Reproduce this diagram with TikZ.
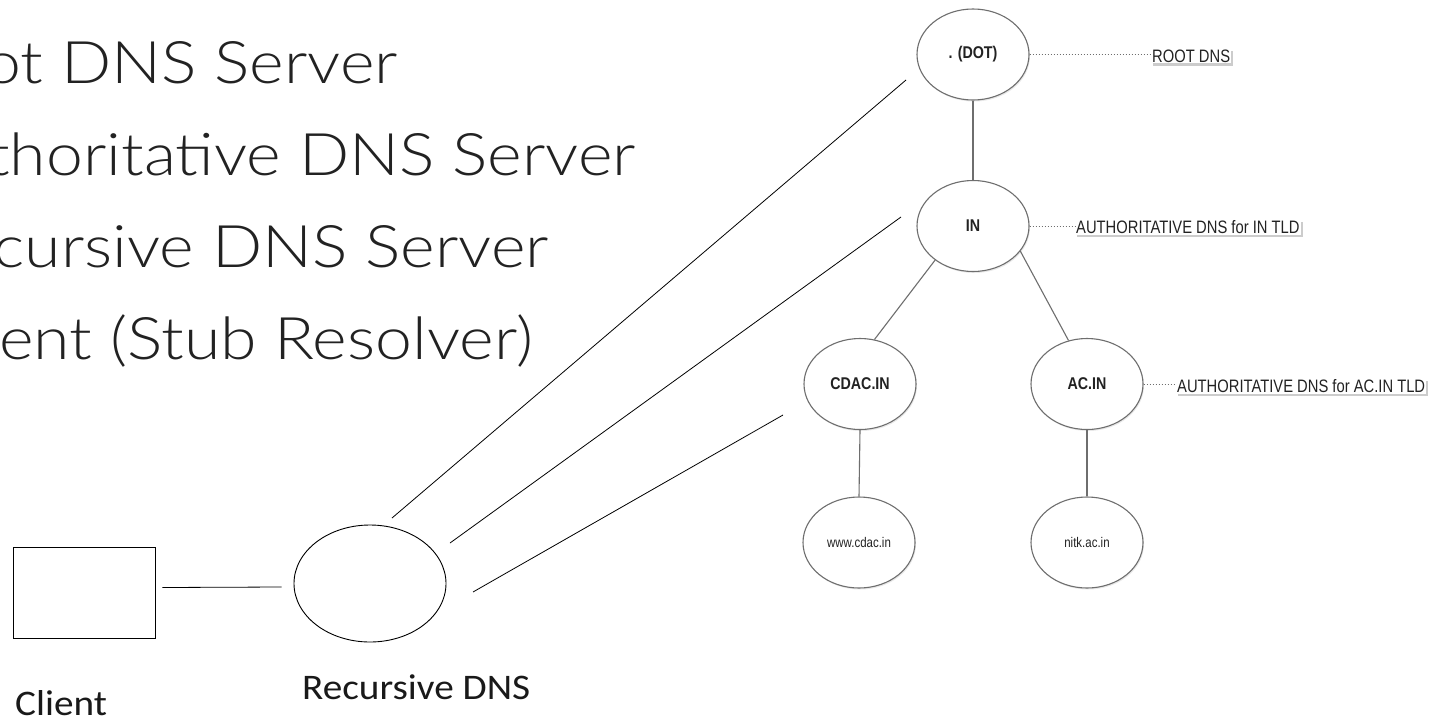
\documentclass[tikz,border=0pt]{standalone}
\usepackage{fontspec}
\usetikzlibrary{shapes.geometric,shadows}
\newfontfamily\lato{Lato Light}
\newfontfamily\arialn{Liberation Sans}
\newfontfamily\calib{Carlito}
\definecolor{ink}{HTML}{222222}
\definecolor{treeline}{HTML}{6E6E6E}
\newcommand\narrowtxt[1]{\scalebox{.84}[1]{#1}}
\newcommand\widetxt[1]{\scalebox{1.127}[1]{#1}}
\newcommand\captxt[1]{\scalebox{1.09}[1]{#1}}
\tikzset{
  headline/.style={anchor=base east, inner sep=0, text=ink,
    font=\lato\fontsize{58.7}{60}\selectfont},
  srv/.style={ellipse, draw=treeline, line width=1.1pt, fill=white,
    minimum width=112pt, minimum height=91pt, inner sep=0, text=ink,
    drop shadow={shadow xshift=1pt, shadow yshift=-1.5pt, opacity=.18}},
  srvname/.style={font=\arialn\bfseries\fontsize{17}{17}\selectfont},
  hostname/.style={font=\arialn\fontsize{14}{14}\selectfont},
  tag/.style={anchor=west, fill=white, inner sep=1pt, text=ink,
    font=\arialn\fontsize{18}{18}\selectfont,
    drop shadow={shadow xshift=2pt, shadow yshift=-2.5pt, opacity=.4, fill=black!50}},
  dots/.style={draw=treeline, line width=.9pt, dash pattern=on 1.6pt off 1.4pt},
  edge/.style={draw=treeline, line width=1.1pt},
  wire/.style={draw=black, line width=.8pt},
  plainbox/.style={draw=black, line width=.9pt, inner sep=0},
  caption/.style={anchor=base west, inner sep=0, text=black!90,
    font=\calib\fontsize{36}{36}\selectfont}
}
\begin{document}
\begin{tikzpicture}[x=1pt, y=-1pt]
\useasboundingbox (0,0) rectangle (1435,718);
\fill[white] (0,0) rectangle (1435,718);

% bullet headings (left margin runs off the page)
\begin{scope}
\clip (0,0) rectangle (1435,718);
\node[headline] (h1) at (398,83)  {\widetxt{ot DNS Server}};
\node[headline] (h2) at (636,175) {\widetxt{thoritative DNS Server}};
\node[headline] (h3) at (549,267) {\widetxt{cursive DNS Server}};
\node[headline] (h4) at (533,359) {\widetxt{ent (Stub Resolver)}};
\end{scope}

% DNS hierarchy
\node[srv, srvname] (dot)  at (973,54.5)  {\narrowtxt{. (DOT)}};
\node[srv, srvname] (in)   at (973,226)   {\narrowtxt{IN}};
\node[srv, srvname] (cdac) at (860,384)   {\narrowtxt{CDAC.IN}};
\node[srv, srvname] (acin) at (1087,384)  {\narrowtxt{AC.IN}};
\node[srv, hostname] (www)  at (859,542.5)  {\scalebox{.82}[1]{www.cdac.in}};
\node[srv, hostname] (nitk) at (1087,542.5) {\scalebox{.82}[1]{nitk.ac.in}};

\draw[edge] (dot.south) -- (in.north);
\draw[edge] (in.-138) -- (cdac.72);
\draw[edge] (in.-28) -- (acin.113);
\draw[edge] (cdac.south) -- (www.north);
\draw[edge] (acin.south) -- (nitk.north);

% role annotations
\node[tag] (rootlbl) at (1151,56)  {\scalebox{.82}[1]{ROOT DNS}};
\node[tag] (inlbl)   at (1075,227) {\scalebox{.82}[1]{AUTHORITATIVE DNS for IN TLD}};
\node[tag] (aclbl)   at (1176,386) {\scalebox{.82}[1]{AUTHORITATIVE DNS for AC.IN TLD}};
\draw[dots] (dot.east) -- (rootlbl.west |- dot.east);
\draw[dots] (in.east) -- (inlbl.west |- in.east);
\draw[dots] (acin.east) -- (aclbl.west |- acin.east);

% client and resolver
\node[plainbox, minimum width=142pt, minimum height=91pt] (client) at (84,592.5) {};
\node[plainbox, ellipse, minimum width=152pt, minimum height=117pt] (rec) at (370,583.5) {};
\draw[wire] ([xshift=7pt,yshift=5pt]client.east) -- ([xshift=-12pt,yshift=-3.5pt]rec.west);
\node[caption] (clientlbl) at (15,715) {\captxt{Client}};
\node[caption] (reclbl) at (302,699) {\captxt{Recursive DNS}};

% queries from the resolver up the hierarchy
\coordinate (q1a) at (392,518);
\coordinate (q1b) at (906,80);
\coordinate (q2a) at (450,543);
\coordinate (q2b) at (901,217);
\coordinate (q3a) at (473,592);
\coordinate (q3b) at (783,415);
\draw[wire] (q1a) -- (q1b);
\draw[wire] (q2a) -- (q2b);
\draw[wire] (q3a) -- (q3b);
\end{tikzpicture}
\end{document}
